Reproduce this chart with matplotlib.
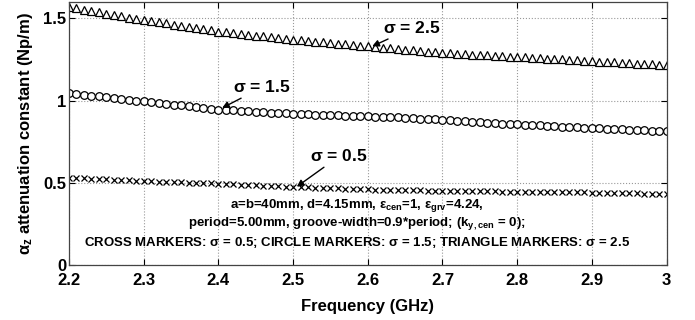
import numpy as np
import matplotlib
matplotlib.use("Agg")
import matplotlib.pyplot as plt

plt.rcParams['font.family'] = ['Liberation Sans', 'DejaVu Sans']
plt.rcParams['font.weight'] = 'bold'
plt.rcParams['mathtext.fontset'] = 'custom'
plt.rcParams['mathtext.rm'] = 'Liberation Sans:bold'
plt.rcParams['mathtext.it'] = 'Liberation Sans:bold'
plt.rcParams['mathtext.bf'] = 'Liberation Sans:bold'

# Frequency samples (GHz), 2.20 .. 3.00 in 0.01 steps
freq = np.round(np.arange(2.20, 3.0001, 0.01), 2)

# sigma = 2.5 (triangles)
alpha_s25 = [
    1.570, 1.561, 1.553, 1.545, 1.537, 1.529, 1.521, 1.513, 1.505, 1.497,
    1.490, 1.483, 1.476, 1.469, 1.462, 1.455, 1.448, 1.441, 1.434, 1.427,
    1.420, 1.415, 1.410, 1.405, 1.400, 1.395, 1.390, 1.385, 1.380, 1.375,
    1.370, 1.366, 1.362, 1.358, 1.354, 1.350, 1.346, 1.342, 1.338, 1.334,
    1.330, 1.326, 1.322, 1.318, 1.314, 1.310, 1.306, 1.302, 1.298, 1.294,
    1.290, 1.287, 1.285, 1.282, 1.280, 1.277, 1.275, 1.272, 1.270, 1.267,
    1.265, 1.262, 1.260, 1.257, 1.255, 1.252, 1.250, 1.247, 1.245, 1.242,
    1.240, 1.237, 1.235, 1.232, 1.230, 1.227, 1.225, 1.222, 1.220, 1.217,
    1.215,
]

# sigma = 1.5 (circles)
alpha_s15 = [
    1.045, 1.040, 1.035, 1.030, 1.025, 1.020, 1.015, 1.010, 1.005, 1.000,
    0.995, 0.990, 0.985, 0.980, 0.975, 0.970, 0.965, 0.960, 0.955, 0.950,
    0.945, 0.942, 0.940, 0.937, 0.935, 0.932, 0.930, 0.927, 0.925, 0.922,
    0.920, 0.918, 0.917, 0.915, 0.914, 0.912, 0.911, 0.909, 0.908, 0.906,
    0.905, 0.903, 0.901, 0.899, 0.897, 0.895, 0.892, 0.890, 0.888, 0.886,
    0.884, 0.881, 0.878, 0.875, 0.872, 0.869, 0.866, 0.863, 0.860, 0.857,
    0.855, 0.853, 0.851, 0.849, 0.846, 0.844, 0.842, 0.840, 0.838, 0.835,
    0.833, 0.831, 0.829, 0.827, 0.825, 0.823, 0.821, 0.819, 0.817, 0.815,
    0.813,
]

# sigma = 0.5 (crosses)
alpha_s05 = [
    0.530, 0.528, 0.526, 0.524, 0.522, 0.520, 0.518, 0.516, 0.514, 0.512,
    0.510, 0.508, 0.507, 0.505, 0.504, 0.502, 0.501, 0.499, 0.498, 0.496,
    0.495, 0.493, 0.491, 0.489, 0.487, 0.485, 0.483, 0.481, 0.479, 0.477,
    0.475, 0.474, 0.472, 0.471, 0.469, 0.468, 0.466, 0.465, 0.463, 0.462,
    0.460, 0.459, 0.458, 0.457, 0.456, 0.455, 0.454, 0.453, 0.452, 0.451,
    0.450, 0.450, 0.449, 0.449, 0.448, 0.448, 0.447, 0.447, 0.446, 0.446,
    0.445, 0.445, 0.444, 0.444, 0.443, 0.443, 0.442, 0.442, 0.441, 0.441,
    0.440, 0.439, 0.438, 0.437, 0.437, 0.436, 0.435, 0.434, 0.433, 0.433,
    0.432,
]

xticks = [2.2, 2.3, 2.4, 2.5, 2.6, 2.7, 2.8, 2.9, 3.0]
xticklabels = ["2.2", "2.3", "2.4", "2.5", "2.6", "2.7", "2.8", "2.9", "3"]
yticks = [0, 0.5, 1, 1.5]
yticklabels = ["0", "0.5", "1", "1.5"]

fig = plt.figure(figsize=(6.95, 3.2), dpi=100)
ax = fig.add_axes([0.0993, 0.172, 0.8597, 0.822])

ax.plot(freq, alpha_s25, linestyle='none', marker='^', markersize=5.5,
        markerfacecolor='white', markeredgecolor='black', markeredgewidth=0.9)
ax.plot(freq, alpha_s15, linestyle='none', marker='o', markersize=5.5,
        markerfacecolor='white', markeredgecolor='black', markeredgewidth=0.9)
ax.plot(freq, alpha_s05, linestyle='none', marker='x', markersize=4,
        markeredgecolor='black', markeredgewidth=0.9)

ax.set_xlim(2.2, 3.0)
ax.set_ylim(0, 1.6)
ax.set_xticks(xticks)
ax.set_xticklabels(xticklabels)
ax.set_yticks(yticks)
ax.set_yticklabels(yticklabels)
ax.tick_params(direction='in', top=True, right=True, length=4, width=0.8,
               labelsize=12, colors='black')
ax.tick_params(axis='x', pad=6)
ax.tick_params(axis='y', pad=2)
for lab in ax.get_xticklabels() + ax.get_yticklabels():
    lab.set_fontweight('bold')
ax.grid(True, linestyle=':', color='#999999', linewidth=0.8)
for s in ax.spines.values():
    s.set_linewidth(0.9)
    s.set_color('#444444')

ax.set_xlabel("Frequency (GHz)", fontsize=12, fontweight='bold', labelpad=8)
ax.set_ylabel(r"$\alpha_z$ attenuation constant (Np/m)", fontsize=12,
              fontweight='bold', labelpad=6)

arrow = dict(arrowstyle='-|>', color='black', lw=1.0, mutation_scale=10,
             shrinkA=0, shrinkB=0)
ax.annotate(r"$\sigma$ = 2.5", xy=(2.606, 1.33), xytext=(2.62, 1.44),
            fontsize=12.5, fontweight='bold', va='center', ha='left',
            arrowprops=arrow)
ax.annotate(r"$\sigma$ = 1.5", xy=(2.405, 0.955), xytext=(2.42, 1.08),
            fontsize=12.5, fontweight='bold', va='center', ha='left',
            arrowprops=arrow)
ax.annotate(r"$\sigma$ = 0.5", xy=(2.505, 0.476), xytext=(2.523, 0.66),
            fontsize=12.5, fontweight='bold', va='center', ha='left',
            arrowprops=arrow)

info = [
    r"a=b=40mm, d=4.15mm, $\epsilon_{cen}$=1, $\epsilon_{grv}$=4.24,",
    r"period=5.00mm, groove-width=0.9*period; (k$_{y,cen}$ = 0);",
    r"CROSS MARKERS: $\sigma$ = 0.5; CIRCLE MARKERS: $\sigma$ = 1.5; TRIANGLE MARKERS: $\sigma$ = 2.5",
]
for txt, yv in zip(info, [0.36, 0.25, 0.135]):
    ax.text(2.585, yv, txt, fontsize=9.5, fontweight='bold', ha='center',
            va='center')

fig.savefig("out.png", dpi=100)
